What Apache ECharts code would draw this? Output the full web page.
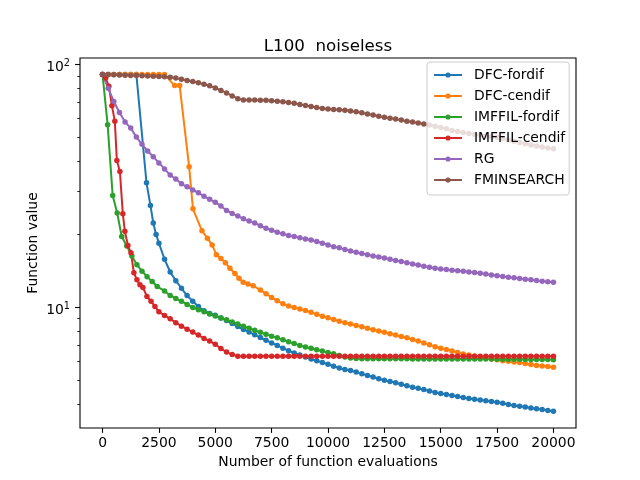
<!DOCTYPE html>
<html>
<head>
<meta charset="utf-8">
<script src="https://cdn.jsdelivr.net/npm/echarts@6/dist/echarts.min.js"></script>
<style>
  html, body { margin: 0; padding: 0; background: #fff; }
  #chart { width: 640px; height: 480px; }
</style>
</head>
<body>
<div id="chart"></div>
<script>
// shared evaluation grid (every 250 evaluations)
const evals = [
  0, 250, 500, 750, 1000, 1250, 1500, 1750, 2000, 2250,
  2500, 2750, 3000, 3250, 3500, 3750, 4000, 4250, 4500, 4750,
  5000, 5250, 5500, 5750, 6000, 6250, 6500, 6750, 7000, 7250,
  7500, 7750, 8000, 8250, 8500, 8750, 9000, 9250, 9500, 9750,
  10000, 10250, 10500, 10750, 11000, 11250, 11500, 11750, 12000, 12250,
  12500, 12750, 13000, 13250, 13500, 13750, 14000, 14250, 14500, 14750,
  15000, 15250, 15500, 15750, 16000, 16250, 16500, 16750, 17000, 17250,
  17500, 17750, 18000, 18250, 18500, 18750, 19000, 19250, 19500, 19750,
  20000
];

// DFC-fordif: irregular head, then grid from 2500
const dfcForHeadX = [0, 250, 500, 750, 1000, 1250, 1500, 1950, 2125, 2250, 2375];
const dfcForHeadY = [91, 91, 91, 91, 91, 91, 91, 32.6, 26.3, 22.3, 20.0];
const dfcForTail = [
  18.4, 15.8, 14.0, 12.9, 12.0, 11.2, 10.6, 10.1, 9.7, 9.45,
  9.3, 9.05, 8.84, 8.6, 8.35, 8.12, 7.92, 7.72, 7.52, 7.33,
  7.15, 6.98, 6.8, 6.64, 6.5, 6.37, 6.25, 6.14, 6.04, 5.94,
  5.84, 5.73, 5.63, 5.56, 5.5, 5.42, 5.34, 5.25, 5.17, 5.09,
  5.02, 4.96, 4.9, 4.83, 4.76, 4.70, 4.65, 4.59, 4.53, 4.47,
  4.42, 4.38, 4.34, 4.30, 4.26, 4.22, 4.19, 4.16, 4.13, 4.10,
  4.07, 4.03, 3.99, 3.95, 3.92, 3.89, 3.86, 3.83, 3.80, 3.77,
  3.74
];

// DFC-cendif: irregular head, then grid from 7000
const dfcCenHeadX = [0, 250, 500, 750, 1000, 1250, 1500, 1750, 2000, 2250, 2500, 2750,
  3200, 3420, 3840, 4010, 4410, 4650, 4860, 5050, 5250, 5450, 5650, 5870, 6050, 6240, 6450, 6680];
const dfcCenHeadY = [91, 91, 91, 91, 91, 91, 91, 91, 91, 91, 91, 91,
  82, 82, 38.0, 25.5, 20.7, 19.3, 18.1, 16.5, 15.9, 15.3, 14.5, 13.8, 13.2, 12.7, 12.5, 12.3];
const dfcCenTail = [
  11.8, 11.4, 11.0, 10.65, 10.35, 10.15, 10.0, 9.85, 9.72, 9.55,
  9.37, 9.2, 9.07, 8.93, 8.78, 8.66, 8.55, 8.43, 8.33, 8.22,
  8.1, 8.0, 7.9, 7.8, 7.7, 7.6, 7.5, 7.38, 7.27, 7.15,
  7.03, 6.9, 6.8, 6.71, 6.62, 6.53, 6.44, 6.38, 6.32, 6.26,
  6.2, 6.14, 6.09, 6.04, 6.0, 5.97, 5.93, 5.88, 5.82, 5.77,
  5.74, 5.71, 5.68
];

// IMFFIL-fordif: irregular head, then grid from 2750
const imfForHeadX = [0, 225, 450, 650, 850, 1075, 1300, 1525, 1750, 1975, 2200, 2425];
const imfForHeadY = [91, 56.6, 28.9, 24.5, 19.6, 17.9, 16.3, 15.0, 14.1, 13.4, 12.8, 12.2];
const imfForTail = [
  11.7, 11.2, 10.9, 10.6, 10.3, 10.0, 9.8, 9.6, 9.4,
  9.22, 9.05, 8.9, 8.72, 8.55, 8.38, 8.22, 8.06, 7.9, 7.76,
  7.62, 7.5, 7.36, 7.23, 7.1, 6.98, 6.88, 6.79, 6.7, 6.62,
  6.53, 6.45, 6.35, 6.26, 6.2, 6.17, 6.15, 6.15, 6.15, 6.15,
  6.15, 6.15, 6.15, 6.15, 6.15, 6.14, 6.14, 6.14, 6.14, 6.14,
  6.14, 6.14, 6.14, 6.14, 6.14, 6.13, 6.13, 6.13, 6.13, 6.13,
  6.12, 6.12, 6.12, 6.12, 6.12, 6.11, 6.11, 6.11, 6.11, 6.11,
  6.1
];

// IMFFIL-cendif: irregular head, then grid from 2500
const imfCenHeadX = [0, 140, 280, 415, 545, 635, 770, 900, 990, 1125, 1260, 1390, 1525, 1660, 1790, 1970, 2150, 2325];
const imfCenHeadY = [91, 88, 81.5, 67.8, 58.5, 40.3, 36.3, 24.3, 20.6, 18.0, 16.8, 13.9, 13.0, 12.4, 12.1, 11.1, 10.6, 10.1];
const imfCenTail = [
  9.6, 9.28, 8.98, 8.66, 8.38, 8.14, 7.92, 7.7, 7.46, 7.28,
  7.05, 6.78, 6.55, 6.4, 6.3, 6.3, 6.3, 6.3, 6.3, 6.3,
  6.3, 6.3, 6.3, 6.3, 6.3, 6.3, 6.3, 6.3, 6.3, 6.3,
  6.3, 6.3, 6.3, 6.3, 6.3, 6.3, 6.3, 6.3, 6.3, 6.3,
  6.3, 6.3, 6.3, 6.3, 6.3, 6.3, 6.3, 6.3, 6.3, 6.3,
  6.3, 6.3, 6.3, 6.3, 6.3, 6.3, 6.3, 6.3, 6.3, 6.3,
  6.3, 6.3, 6.3, 6.3, 6.3, 6.3, 6.3, 6.3, 6.3, 6.3,
  6.3
];

// RG and FMINSEARCH on the full grid
const rgValues = [
  91, 80, 70.5, 63.5, 58.0, 54.8, 50.3, 47.0, 44.1, 41.8,
  39.4, 37.2, 35.1, 33.8, 32.3, 31.4, 30.5, 29.7, 28.7, 27.9,
  27.1, 26.2, 25.1, 24.4, 23.8, 23.2, 22.7, 22.3, 21.7, 21.2,
  20.8, 20.4, 20.1, 19.8, 19.6, 19.35, 19.15, 18.95, 18.7, 18.4,
  18.1, 17.8, 17.6, 17.35, 17.1, 16.9, 16.7, 16.5, 16.3, 16.15,
  16.0, 15.8, 15.6, 15.45, 15.3, 15.1, 14.95, 14.8, 14.65, 14.5,
  14.4, 14.32, 14.25, 14.18, 14.1, 14.0, 13.92, 13.83, 13.73, 13.62,
  13.5, 13.42, 13.33, 13.25, 13.16, 13.08, 13.0, 12.92, 12.84, 12.77,
  12.7
];
const fminValues = [
  91, 91, 90.8, 90.6, 90.5, 90.3, 90.2, 90.0, 89.8, 89.6,
  89.4, 89.2, 88.7, 88.0, 87.0, 86.0, 85.2, 84.3, 83.0, 81.8,
  80.2, 78.3, 76.5, 74.3, 72.4, 71.6, 71.5, 71.5, 71.4, 71.3,
  71.0, 70.7, 70.3, 69.8, 69.3, 68.6, 67.9, 67.3, 66.6, 66.0,
  65.6, 65.4, 65.2, 64.9, 64.5, 64.0, 63.4, 62.7, 62.0, 61.3,
  60.7, 60.2, 59.7, 59.1, 58.5, 58.0, 57.5, 57.0, 56.4, 55.8,
  55.1, 54.4, 53.6, 53.0, 52.5, 52.0, 51.6, 51.2, 50.8, 50.5,
  50.2, 49.6, 49.0, 48.4, 47.8, 47.2, 46.7, 46.2, 45.8, 45.4,
  45.0
];

const names = ['DFC-fordif', 'DFC-cendif', 'IMFFIL-fordif', 'IMFFIL-cendif', 'RG', 'FMINSEARCH'];
const colors = ['#1f77b4', '#ff7f0e', '#2ca02c', '#d62728', '#9467bd', '#8c564b'];
const xTicks = [0, 2500, 5000, 7500, 10000, 12500, 15000, 17500, 20000];
const yMajor = [10, 100];
const yMinor = [4, 5, 6, 7, 8, 9, 20, 30, 40, 50, 60, 70, 80, 90];

function pairs(xs, ys) {
  return xs.map((x, i) => [x, ys[i]]);
}
function headTail(hx, hy, tail) {
  const tx = evals.slice(evals.length - tail.length);
  return pairs(hx, hy).concat(pairs(tx, tail));
}

const seriesData = [
  headTail(dfcForHeadX, dfcForHeadY, dfcForTail),
  headTail(dfcCenHeadX, dfcCenHeadY, dfcCenTail),
  headTail(imfForHeadX, imfForHeadY, imfForTail),
  headTail(imfCenHeadX, imfCenHeadY, imfCenTail),
  pairs(evals, rgValues),
  pairs(evals, fminValues)
];

const font = 'DejaVu Sans';
const chart = echarts.init(document.getElementById('chart'));

chart.setOption({
  animation: false,
  backgroundColor: '#fff',
  color: colors,
  title: {
    text: 'L100  noiseless',
    left: 323,
    top: 33,
    textAlign: 'center',
    textStyle: { fontFamily: font, fontSize: 16.7, fontWeight: 'normal', color: '#000' }
  },
  legend: {
    orient: 'vertical',
    left: 427,
    top: 62,
    itemWidth: 28,
    itemHeight: 6.5,
    itemGap: 7,
    padding: [6, 4, 8, 6],
    backgroundColor: 'rgba(255,255,255,0.8)',
    borderColor: '#cccccc',
    borderWidth: 1,
    borderRadius: 3,
    textStyle: { fontFamily: font, fontSize: 13.9, color: '#000', padding: [0, 0, 0, 7] },
    data: names
  },
  grid: {
    left: 80, right: 64, top: 58, bottom: 52,
    show: true, borderColor: '#000', borderWidth: 1.1,
    containLabel: false
  },
  xAxis: {
    type: 'value',
    min: -1000,
    max: 21000,
    name: 'Number of function evaluations',
    nameLocation: 'middle',
    nameGap: 26,
    nameTextStyle: { fontFamily: font, fontSize: 13.9, color: '#000' },
    axisLine: { show: false, onZero: false },
    axisTick: { show: true, length: 4.9, lineStyle: { color: '#000', width: 1.1 }, customValues: xTicks },
    axisLabel: { fontFamily: font, fontSize: 13.9, color: '#000', margin: 8, customValues: xTicks, formatter: v => String(v) },
    splitLine: { show: false }
  },
  yAxis: [
    {
      type: 'log',
      logBase: 10,
      min: 3.19,
      max: 106.5,
      name: 'Function value',
      nameLocation: 'middle',
      nameGap: 40,
      nameMoveOverlap: false,
      nameTextStyle: { fontFamily: font, fontSize: 13.9, color: '#000' },
      axisLine: { show: false, onZero: false },
      axisTick: { show: true, length: 4.9, lineStyle: { color: '#000', width: 1.1 }, customValues: yMajor },
      axisLabel: {
        fontFamily: font, fontSize: 13.9, color: '#000', margin: 10,
        customValues: yMajor,
        padding: [6, 0, 0, 0],
        formatter: v => '10{s|' + Math.round(Math.log10(v)) + '}',
        rich: { s: { fontFamily: font, fontSize: 9.7, color: '#000', verticalAlign: 'top', padding: [0, 0, 8, 0] } }
      },
      splitLine: { show: false }
    },
    {
      type: 'log',
      logBase: 10,
      min: 3.19,
      max: 106.5,
      position: 'left',
      axisLine: { show: false, onZero: false },
      axisTick: { show: true, length: 2.8, lineStyle: { color: '#000', width: 0.8 }, customValues: yMinor },
      axisLabel: { show: false },
      splitLine: { show: false }
    }
  ],
  series: names.map((n, i) => ({
    name: n,
    type: 'line',
    data: seriesData[i],
    symbol: 'circle',
    symbolSize: 5.5,
    showAllSymbol: true,
    lineStyle: { width: 2, color: colors[i] },
    itemStyle: { color: colors[i] },
    emphasis: { disabled: true }
  }))
});
</script>
</body>
</html>
